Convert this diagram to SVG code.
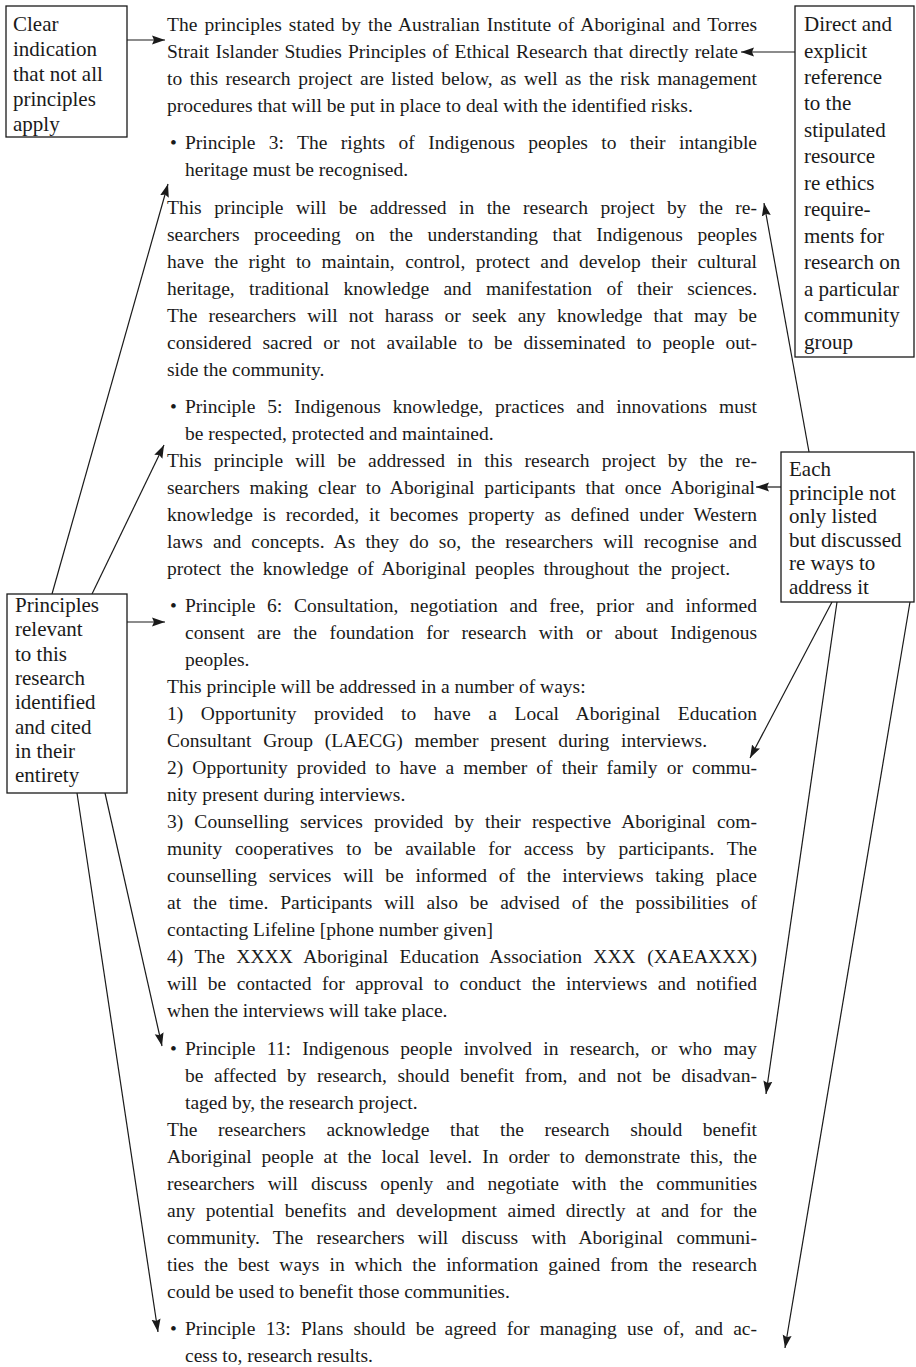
<svg xmlns="http://www.w3.org/2000/svg" width="916" height="1367" viewBox="0 0 916 1367">
<style>
text{font-family:"Liberation Serif","Times New Roman",serif;fill:#1a1a1a}
.t{font-size:19.5px}
.b{font-size:21px}
.box{fill:#fff;stroke:#1a1a1a;stroke-width:1.3}
.c{stroke:#1a1a1a;stroke-width:1.2;fill:none;marker-end:url(#ah)}
</style>
<defs>
<marker id="ah" viewBox="0 0 13 10" refX="13" refY="5" markerUnits="userSpaceOnUse" markerWidth="13" markerHeight="10" orient="auto">
<path d="M0,0.5 L13,5 L0,9.5 L2,5 z" fill="#1a1a1a"/>
</marker>
</defs>
<rect width="916" height="1367" fill="#fff"/>

<g id="main-text" class="t">
<text x="167" y="31" word-spacing="2" textLength="590" lengthAdjust="spacing">The principles stated by the Australian Institute of Aboriginal and Torres</text>
<text x="167" y="58" word-spacing="1.3" textLength="571" lengthAdjust="spacing">Strait Islander Studies Principles of Ethical Research that directly relate</text>
<text x="167" y="85" word-spacing="2.6" textLength="590" lengthAdjust="spacing">to this research project are listed below, as well as the risk management</text>
<text x="167" y="112">procedures that will be put in place to deal with the identified risks.</text>

<text x="170" y="149.3">•</text>
<text x="185" y="149.3" word-spacing="8.5" textLength="572" lengthAdjust="spacing">Principle 3: The rights of Indigenous peoples to their intangible</text>
<text x="185" y="176.3">heritage must be recognised.</text>

<text x="167" y="213.6" word-spacing="7.6" textLength="590" lengthAdjust="spacing">This principle will be addressed in the research project by the re-</text>
<text x="167" y="240.6" word-spacing="9.6" textLength="590" lengthAdjust="spacing">searchers proceeding on the understanding that Indigenous peoples</text>
<text x="167" y="267.6" word-spacing="5.6" textLength="590" lengthAdjust="spacing">have the right to maintain, control, protect and develop their cultural</text>
<text x="167" y="294.6" word-spacing="9.5" textLength="590" lengthAdjust="spacing">heritage, traditional knowledge and manifestation of their sciences.</text>
<text x="167" y="321.6" word-spacing="6.2" textLength="590" lengthAdjust="spacing">The researchers will not harass or seek any knowledge that may be</text>
<text x="167" y="348.6" word-spacing="6.1" textLength="590" lengthAdjust="spacing">considered sacred or not available to be disseminated to people out-</text>
<text x="167" y="375.6">side the community.</text>

<text x="170" y="412.9">•</text>
<text x="185" y="412.9" word-spacing="7" textLength="572" lengthAdjust="spacing">Principle 5: Indigenous knowledge, practices and innovations must</text>
<text x="185" y="439.9">be respected, protected and maintained.</text>
<text x="167" y="466.9" word-spacing="7.2" textLength="590" lengthAdjust="spacing">This principle will be addressed in this research project by the re-</text>
<text x="167" y="493.9" word-spacing="4.9" textLength="588" lengthAdjust="spacing">searchers making clear to Aboriginal participants that once Aboriginal</text>
<text x="167" y="520.9" word-spacing="5" textLength="590" lengthAdjust="spacing">knowledge is recorded, it becomes property as defined under Western</text>
<text x="167" y="547.9" word-spacing="5.2" textLength="590" lengthAdjust="spacing">laws and concepts. As they do so, the researchers will recognise and</text>
<text x="167" y="574.9" word-spacing="4" textLength="563" lengthAdjust="spacing">protect the knowledge of Aboriginal peoples throughout the project.</text>

<text x="170" y="612.2">•</text>
<text x="185" y="612.2" word-spacing="6.8" textLength="572" lengthAdjust="spacing">Principle 6: Consultation, negotiation and free, prior and informed</text>
<text x="185" y="639.2" word-spacing="7.5" textLength="572" lengthAdjust="spacing">consent are the foundation for research with or about Indigenous</text>
<text x="185" y="666.2">peoples.</text>
<text x="167" y="693.2">This principle will be addressed in a number of ways:</text>
<text x="167" y="720.2" word-spacing="12.7" textLength="590" lengthAdjust="spacing">1) Opportunity provided to have a Local Aboriginal Education</text>
<text x="167" y="747.2" word-spacing="7" textLength="540" lengthAdjust="spacing">Consultant Group (LAECG) member present during interviews.</text>
<text x="167" y="774.2" word-spacing="4.25" textLength="590" lengthAdjust="spacing">2) Opportunity provided to have a member of their family or commu-</text>
<text x="167" y="801.2">nity present during interviews.</text>
<text x="167" y="828.2" word-spacing="6.2" textLength="590" lengthAdjust="spacing">3) Counselling services provided by their respective Aboriginal com-</text>
<text x="167" y="855.2" word-spacing="7.8" textLength="590" lengthAdjust="spacing">munity cooperatives to be available for access by participants. The</text>
<text x="167" y="882.2" word-spacing="6.9" textLength="590" lengthAdjust="spacing">counselling services will be informed of the interviews taking place</text>
<text x="167" y="909.2" word-spacing="7" textLength="590" lengthAdjust="spacing">at the time. Participants will also be advised of the possibilities of</text>
<text x="167" y="936.2">contacting Lifeline [phone number given]</text>
<text x="167" y="963.2" word-spacing="6.5" textLength="590" lengthAdjust="spacing">4) The XXXX Aboriginal Education Association XXX (XAEAXXX)</text>
<text x="167" y="990.2" word-spacing="5.6" textLength="590" lengthAdjust="spacing">will be contacted for approval to conduct the interviews and notified</text>
<text x="167" y="1017.2">when the interviews will take place.</text>

<text x="170" y="1054.5">•</text>
<text x="185" y="1054.5" word-spacing="6.4" textLength="572" lengthAdjust="spacing">Principle 11: Indigenous people involved in research, or who may</text>
<text x="185" y="1081.5" word-spacing="5.65" textLength="572" lengthAdjust="spacing">be affected by research, should benefit from, and not be disadvan-</text>
<text x="185" y="1108.5">taged by, the research project.</text>
<text x="167" y="1135.5" word-spacing="15.8" textLength="590" lengthAdjust="spacing">The researchers acknowledge that the research should benefit</text>
<text x="167" y="1162.5" word-spacing="5.1" textLength="590" lengthAdjust="spacing">Aboriginal people at the local level. In order to demonstrate this, the</text>
<text x="167" y="1189.5" word-spacing="8.1" textLength="590" lengthAdjust="spacing">researchers will discuss openly and negotiate with the communities</text>
<text x="167" y="1216.5" word-spacing="5.8" textLength="590" lengthAdjust="spacing">any potential benefits and development aimed directly at and for the</text>
<text x="167" y="1243.5" word-spacing="8.3" textLength="590" lengthAdjust="spacing">community. The researchers will discuss with Aboriginal communi-</text>
<text x="167" y="1270.5" word-spacing="5.1" textLength="590" lengthAdjust="spacing">ties the best ways in which the information gained from the research</text>
<text x="167" y="1297.5">could be used to benefit those communities.</text>

<text x="170" y="1334.8">•</text>
<text x="185" y="1334.8" word-spacing="5.4" textLength="572" lengthAdjust="spacing">Principle 13: Plans should be agreed for managing use of, and ac-</text>
<text x="185" y="1361.8">cess to, research results.</text>
</g>

<g id="connectors">
<line class="c" x1="127" y1="40" x2="165" y2="40"/>
<line class="c" x1="795" y1="52" x2="741" y2="52"/>
<line class="c" x1="52" y1="594" x2="168" y2="184"/>
<line class="c" x1="92" y1="594" x2="164" y2="445"/>
<line class="c" x1="127" y1="622" x2="165" y2="622"/>
<line class="c" x1="105" y1="793" x2="162" y2="1046"/>
<line class="c" x1="77" y1="793" x2="158" y2="1332"/>
<line class="c" x1="809" y1="452" x2="764" y2="203"/>
<line class="c" x1="781" y1="487" x2="756" y2="487"/>
<line class="c" x1="832" y1="602" x2="750" y2="758"/>
<line class="c" x1="837" y1="602" x2="766" y2="1094"/>
<line class="c" x1="910" y1="602" x2="785" y2="1348"/>
</g>

<g id="node-clear-indication" class="b">
<rect class="box" x="6" y="6" width="121" height="131"/>
<text x="13" y="31">Clear</text>
<text x="13" y="56">indication</text>
<text x="13" y="81">that not all</text>
<text x="13" y="106">principles</text>
<text x="13" y="131">apply</text>
</g>

<g id="node-direct-reference" class="b">
<rect class="box" x="795" y="6" width="119" height="351"/>
<text x="804" y="31">Direct and</text>
<text x="804" y="57.5">explicit</text>
<text x="804" y="84">reference</text>
<text x="804" y="110.4">to the</text>
<text x="804" y="136.9">stipulated</text>
<text x="804" y="163.4">resource</text>
<text x="804" y="189.8">re ethics</text>
<text x="804" y="216.3">require-</text>
<text x="804" y="242.8">ments for</text>
<text x="804" y="269.2">research on</text>
<text x="804" y="295.7">a particular</text>
<text x="804" y="322.2">community</text>
<text x="804" y="348.6">group</text>
</g>

<g id="node-principles-relevant" class="b">
<rect class="box" x="7" y="594" width="120" height="199"/>
<text x="15" y="612">Principles</text>
<text x="15" y="636.3">relevant</text>
<text x="15" y="660.6">to this</text>
<text x="15" y="684.9">research</text>
<text x="15" y="709.2">identified</text>
<text x="15" y="733.5">and cited</text>
<text x="15" y="757.8">in their</text>
<text x="15" y="782.1">entirety</text>
</g>

<g id="node-each-principle" class="b">
<rect class="box" x="781" y="452" width="133" height="150"/>
<text x="789" y="476">Each</text>
<text x="789" y="499.5">principle not</text>
<text x="789" y="523">only listed</text>
<text x="789" y="546.5">but discussed</text>
<text x="789" y="570">re ways to</text>
<text x="789" y="593.5">address it</text>
</g>
</svg>
